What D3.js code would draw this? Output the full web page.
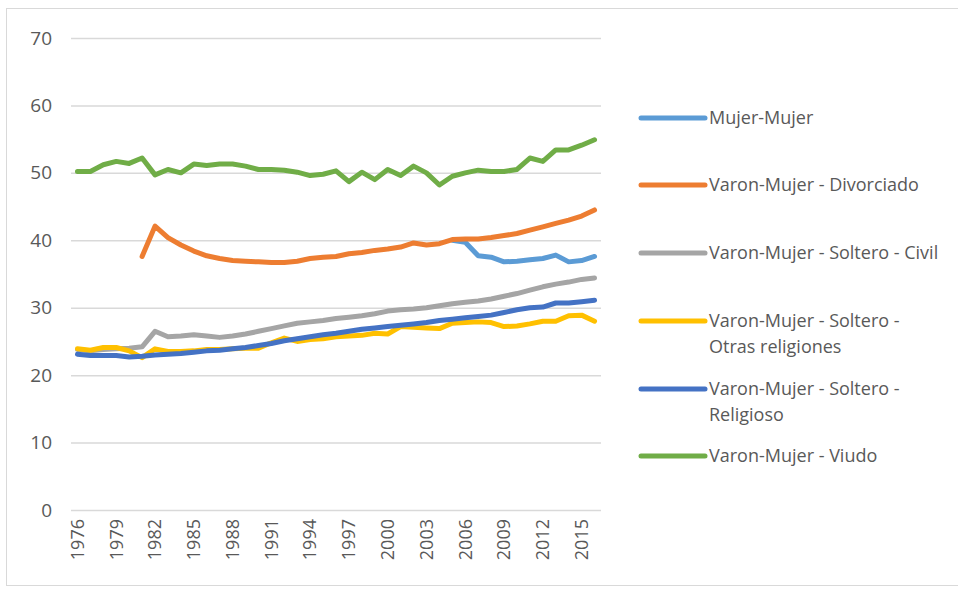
<!DOCTYPE html>
<html>
<head>
<meta charset="utf-8">
<script src="https://cdn.jsdelivr.net/npm/d3@7"></script>
<style>
  body { margin: 0; background: #fff; }
  svg { display: block; }
  text { font-family: "Open Sans", "Liberation Sans", sans-serif; fill: #595959; }
</style>
</head>
<body>
<svg id="chart" width="958" height="589"></svg>
<script>
// years on the category axis
const years = d3.range(1976, 2017);
const tickYears = d3.range(1976, 2016, 3);
const yTicks = [0, 10, 20, 30, 40, 50, 60, 70];

// series values (null = no data)
const mujerMujer = [
  null, null, null, null, null, null, null, null, null, null,
  null, null, null, null, null, null, null, null, null, null,
  null, null, null, null, null, null, null, null, null,
  40.0, 39.7, 37.7, 37.5, 36.8, 36.9, 37.1, 37.3, 37.8, 36.8, 37.0, 37.6
];
const divorciado = [
  null, null, null, null, null,
  37.6, 42.1, 40.4, 39.3, 38.4, 37.7, 37.3, 37.0, 36.9, 36.8,
  36.7, 36.7, 36.9, 37.3, 37.5, 37.6, 38.0, 38.2, 38.5, 38.7,
  39.0, 39.6, 39.3, 39.5, 40.1, 40.2, 40.2, 40.4, 40.7, 41.0,
  41.5, 42.0, 42.5, 43.0, 43.6, 44.5
];
const solteroCivil = [
  23.8, 23.6, 23.8, 23.9, 24.0, 24.2, 26.5, 25.7, 25.8, 26.0,
  25.8, 25.6, 25.8, 26.1, 26.5, 26.9, 27.3, 27.7, 27.9, 28.1,
  28.4, 28.6, 28.8, 29.1, 29.5, 29.7, 29.8, 30.0, 30.3, 30.6,
  30.8, 31.0, 31.3, 31.7, 32.1, 32.6, 33.1, 33.5, 33.8, 34.2, 34.4
];
const solteroOtras = [
  23.9, 23.7, 24.1, 24.1, 23.6, 22.6, 23.9, 23.5, 23.5, 23.6,
  23.8, 23.8, 23.9, 24.0, 24.0, 24.8, 25.5, 25.0, 25.3, 25.4,
  25.7, 25.8, 25.9, 26.2, 26.1, 27.2, 27.1, 27.0, 26.9, 27.7,
  27.8, 27.9, 27.8, 27.2, 27.3, 27.6, 28.0, 28.0, 28.8, 28.9, 28.0
];
const solteroReligioso = [
  23.1, 22.9, 22.9, 22.9, 22.7, 22.8, 23.0, 23.1, 23.2, 23.4,
  23.6, 23.7, 23.9, 24.1, 24.4, 24.7, 25.1, 25.4, 25.7, 26.0,
  26.2, 26.5, 26.8, 27.0, 27.2, 27.4, 27.6, 27.8, 28.1, 28.3,
  28.5, 28.7, 28.9, 29.3, 29.7, 30.0, 30.1, 30.7, 30.7, 30.9, 31.1
];
const viudo = [
  50.2, 50.2, 51.2, 51.7, 51.4, 52.2, 49.7, 50.5, 50.0, 51.3,
  51.1, 51.3, 51.3, 51.0, 50.5, 50.5, 50.4, 50.1, 49.6, 49.8,
  50.3, 48.7, 50.1, 49.0, 50.5, 49.6, 51.0, 50.0, 48.2, 49.5,
  50.0, 50.4, 50.2, 50.2, 50.5, 52.2, 51.7, 53.4, 53.4, 54.1, 54.9
];

const series = [
  { name: ['Mujer-Mujer'], values: mujerMujer, color: '#5B9BD5' },
  { name: ['Varon-Mujer - Divorciado'], values: divorciado, color: '#ED7D31' },
  { name: ['Varon-Mujer - Soltero - Civil'], values: solteroCivil, color: '#A5A5A5' },
  { name: ['Varon-Mujer - Soltero -', 'Otras religiones'], values: solteroOtras, color: '#FFC000' },
  { name: ['Varon-Mujer - Soltero -', 'Religioso'], values: solteroReligioso, color: '#4472C4' },
  { name: ['Varon-Mujer - Viudo'], values: viudo, color: '#70AD47' }
];

const svg = d3.select('#chart');

// outer chart border
svg.append('rect')
  .attr('x', 6.5).attr('y', 8.5)
  .attr('width', 960).attr('height', 577)
  .attr('fill', 'none')
  .attr('stroke', '#d9d9d9');

const plot = { left: 71, right: 601, top: 38, bottom: 510 };

const x = d3.scaleBand()
  .domain(years)
  .range([plot.left, plot.right]);

const y = d3.scaleLinear()
  .domain([0, 70])
  .range([plot.bottom, plot.top]);

// gridlines
svg.append('g')
  .selectAll('line')
  .data(yTicks)
  .enter()
  .append('line')
  .attr('x1', plot.left)
  .attr('x2', plot.right)
  .attr('y1', d => y(d) + 0.5)
  .attr('y2', d => y(d) + 0.5)
  .style('stroke', '#d9d9d9')
  .style('stroke-width', 1.5);

// y axis labels
const yAxis = svg.append('g')
  .attr('transform', `translate(${plot.left - 19},0)`)
  .call(d3.axisLeft(y).tickValues(yTicks).tickSize(0).tickPadding(0));
yAxis.select('.domain').remove();
yAxis.selectAll('text')
  .style('font-size', '19px')
  .style('fill', '#595959');

// x axis labels
const xAxis = svg.append('g')
  .attr('transform', `translate(0,${plot.bottom + 9})`)
  .call(d3.axisBottom(x).tickValues(tickYears).tickSize(0).tickPadding(0));
xAxis.select('.domain').remove();
xAxis.selectAll('text')
  .style('font-size', '18px')
  .style('fill', '#595959')
  .attr('text-anchor', 'end')
  .attr('dy', '0.35em')
  .attr('transform', 'rotate(-90)')
  .attr('x', 0)
  .attr('y', 0);

// lines
const line = d3.line()
  .defined(d => d.v != null)
  .x(d => x(d.year) + x.bandwidth() / 2)
  .y(d => y(d.v));

svg.append('g')
  .selectAll('path')
  .data(series)
  .enter()
  .append('path')
  .attr('d', s => line(years.map((yr, i) => ({ year: yr, v: s.values[i] }))))
  .style('fill', 'none')
  .style('stroke', s => s.color)
  .style('stroke-width', 5)
  .style('stroke-linejoin', 'round')
  .style('stroke-linecap', 'round');

// legend
const legendY = [118, 185, 253, 321, 389, 456];
const legend = svg.append('g')
  .selectAll('g')
  .data(series)
  .enter()
  .append('g')
  .attr('transform', (s, i) => `translate(641,${legendY[i]})`);

legend.append('line')
  .attr('x1', 0).attr('x2', 64)
  .style('stroke', s => s.color)
  .style('stroke-width', 5)
  .style('stroke-linecap', 'round');

legend.append('text')
  .selectAll('tspan')
  .data(s => s.name)
  .enter()
  .append('tspan')
  .attr('x', 68)
  .attr('y', (d, i) => i * 26)
  .attr('dy', '0.35em')
  .style('font-size', '18px')
  .text(d => d);
</script>
</body>
</html>
